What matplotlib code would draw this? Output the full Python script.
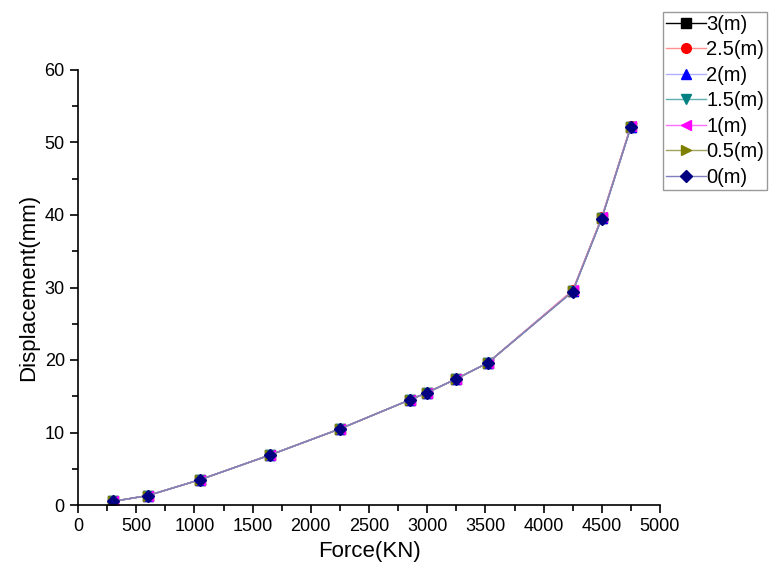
import numpy as np
import matplotlib.pyplot as plt
from matplotlib.ticker import MultipleLocator

plt.rcParams['font.family'] = ['Liberation Sans', 'DejaVu Sans']

force = [300, 600, 1050, 1650, 2250, 2850, 3000, 3250, 3520, 4250, 4500, 4750]
disp_3 = [0.5, 1.3, 3.5, 6.9, 10.5, 14.5, 15.5, 17.4, 19.6, 29.5, 39.6, 52.2]
disp_25 = [0.5, 1.3, 3.5, 6.9, 10.5, 14.5, 15.5, 17.4, 19.6, 29.6, 39.7, 52.3]
disp_2 = [0.5, 1.3, 3.5, 6.9, 10.5, 14.5, 15.5, 17.4, 19.6, 29.5, 39.6, 52.2]
disp_15 = [0.5, 1.3, 3.5, 6.9, 10.5, 14.5, 15.5, 17.4, 19.6, 29.5, 39.6, 52.2]
disp_1 = [0.5, 1.3, 3.5, 6.9, 10.5, 14.5, 15.5, 17.4, 19.6, 29.6, 39.7, 52.3]
disp_05 = [0.5, 1.3, 3.5, 6.9, 10.5, 14.5, 15.5, 17.4, 19.6, 29.5, 39.6, 52.2]
disp_0 = [0.5, 1.3, 3.5, 6.9, 10.5, 14.5, 15.5, 17.4, 19.6, 29.4, 39.5, 52.1]

labels = ['3(m)', '2.5(m)', '2(m)', '1.5(m)', '1(m)', '0.5(m)', '0(m)']
series = [disp_3, disp_25, disp_2, disp_15, disp_1, disp_05, disp_0]
colors = ['black', 'red', 'blue', '#008080', 'magenta', '#808000', '#000080']
markers = ['s', 'o', '^', 'v', '<', '>', 'D']
lcolors = ['black', '#ff9090', '#b0b0ff', '#60b0b0', '#ff70ff', '#a0a060', '#8080c0']

fig = plt.figure(figsize=(7.75, 5.7), dpi=100)
ax = fig.add_axes([78/775, 65/570, 582/775, 435/570])

for y, lab, c, m, lc in zip(series, labels, colors, markers, lcolors):
    ax.plot(force, y, color=lc, lw=1, marker=m, markersize=7 if m != 'D' else 6,
            markerfacecolor=c, markeredgecolor=c, label=lab)

ax.set_xlim(0, 5000)
ax.set_ylim(0, 60)
ax.xaxis.set_major_locator(MultipleLocator(500))
ax.xaxis.set_minor_locator(MultipleLocator(250))
ax.yaxis.set_major_locator(MultipleLocator(10))
ax.yaxis.set_minor_locator(MultipleLocator(5))
ax.tick_params(which='both', direction='out', width=1.2, labelsize=13)
ax.tick_params(which='major', length=6)
ax.tick_params(which='minor', length=4)
for s in ['top', 'right']:
    ax.spines[s].set_visible(False)
for s in ['left', 'bottom']:
    ax.spines[s].set_linewidth(1.2)

ax.set_xlabel('Force(KN)', fontsize=16)
ax.set_ylabel('Displacement(mm)', fontsize=16)

ax.legend(loc='upper left', bbox_to_anchor=(663/775, 1 - 12/570), bbox_transform=fig.transFigure,
          fontsize=14.5, frameon=True, fancybox=False, edgecolor='gray',
          handlelength=2.0, handletextpad=0.0, borderpad=0.15, labelspacing=0.32,
          borderaxespad=0)

fig.savefig('out.png', dpi=100)
